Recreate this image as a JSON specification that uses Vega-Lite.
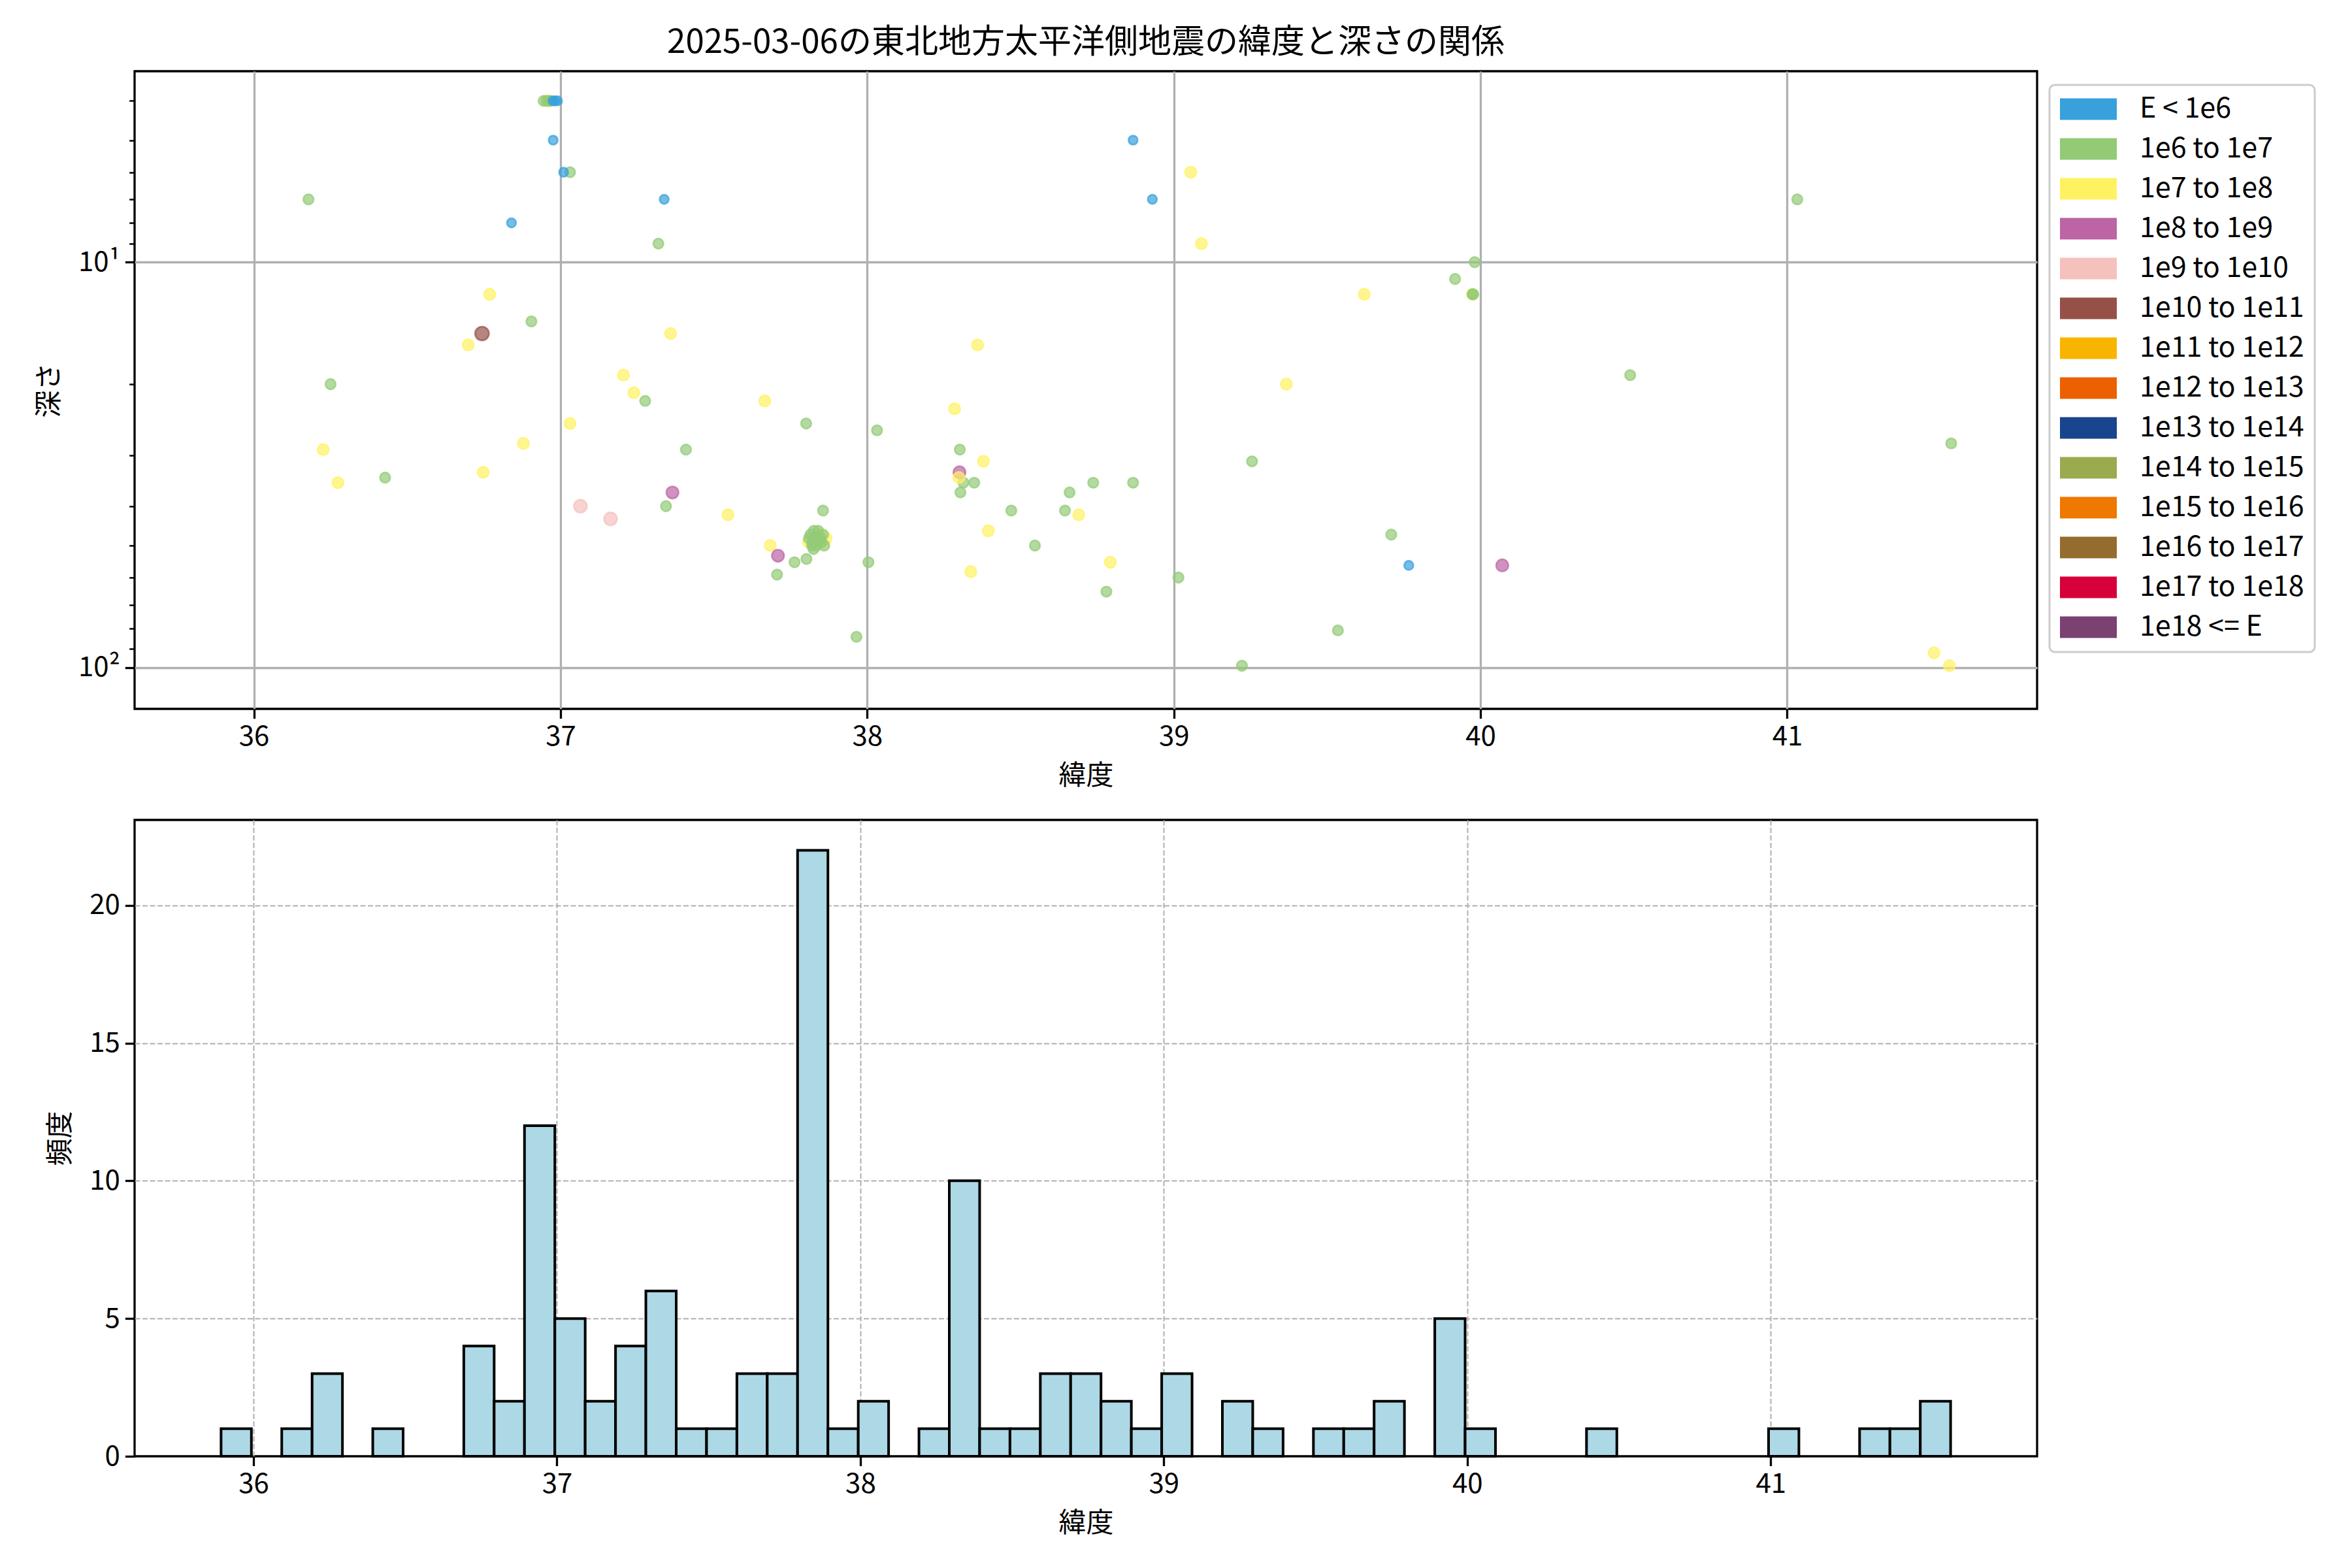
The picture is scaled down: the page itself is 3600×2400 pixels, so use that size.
{
  "$schema": "https://vega.github.io/schema/vega-lite/v6.json",
  "background": "white",
  "padding": {"left": 52, "top": 38, "right": 10, "bottom": 10},
  "spacing": 42,
  "config": {
    "font": "Noto Sans CJK JP",
    "view": {"stroke": "black", "strokeWidth": 3.3},
    "axis": {
      "domain": false,
      "labelFontSize": 42,
      "titleFontSize": 42,
      "titleFontWeight": "normal",
      "labelColor": "black",
      "titleColor": "black",
      "tickColor": "black",
      "tickSize": 14.6,
      "tickWidth": 3.3,
      "labelPadding": 8,
      "titlePadding": 19,
      "zindex": 1
    }
  },
  "datasets": {
    "quakes": [
      {"lat": 36.960, "depth": 4.0, "cls": "1e7 to 1e8"},
      {"lat": 36.769, "depth": 12, "cls": "1e7 to 1e8"},
      {"lat": 36.699, "depth": 16, "cls": "1e7 to 1e8"},
      {"lat": 37.031, "depth": 25, "cls": "1e7 to 1e8"},
      {"lat": 36.226, "depth": 29, "cls": "1e7 to 1e8"},
      {"lat": 36.879, "depth": 28, "cls": "1e7 to 1e8"},
      {"lat": 36.748, "depth": 33, "cls": "1e7 to 1e8"},
      {"lat": 36.274, "depth": 35, "cls": "1e7 to 1e8"},
      {"lat": 37.359, "depth": 15, "cls": "1e7 to 1e8"},
      {"lat": 37.205, "depth": 19, "cls": "1e7 to 1e8"},
      {"lat": 37.239, "depth": 21, "cls": "1e7 to 1e8"},
      {"lat": 37.666, "depth": 22, "cls": "1e7 to 1e8"},
      {"lat": 37.546, "depth": 42, "cls": "1e7 to 1e8"},
      {"lat": 37.840, "depth": 48, "cls": "1e7 to 1e8"},
      {"lat": 37.866, "depth": 48, "cls": "1e7 to 1e8"},
      {"lat": 37.808, "depth": 49, "cls": "1e7 to 1e8"},
      {"lat": 37.845, "depth": 47, "cls": "1e7 to 1e8"},
      {"lat": 37.855, "depth": 49, "cls": "1e7 to 1e8"},
      {"lat": 37.830, "depth": 49, "cls": "1e7 to 1e8"},
      {"lat": 37.684, "depth": 50, "cls": "1e7 to 1e8"},
      {"lat": 38.360, "depth": 16, "cls": "1e7 to 1e8"},
      {"lat": 38.285, "depth": 23, "cls": "1e7 to 1e8"},
      {"lat": 38.379, "depth": 31, "cls": "1e7 to 1e8"},
      {"lat": 38.690, "depth": 42, "cls": "1e7 to 1e8"},
      {"lat": 38.395, "depth": 46, "cls": "1e7 to 1e8"},
      {"lat": 38.338, "depth": 58, "cls": "1e7 to 1e8"},
      {"lat": 38.793, "depth": 55, "cls": "1e7 to 1e8"},
      {"lat": 39.055, "depth": 6, "cls": "1e7 to 1e8"},
      {"lat": 39.090, "depth": 9, "cls": "1e7 to 1e8"},
      {"lat": 39.621, "depth": 12, "cls": "1e7 to 1e8"},
      {"lat": 39.367, "depth": 20, "cls": "1e7 to 1e8"},
      {"lat": 39.974, "depth": 12, "cls": "1e7 to 1e8"},
      {"lat": 41.479, "depth": 92, "cls": "1e7 to 1e8"},
      {"lat": 41.529, "depth": 99, "cls": "1e7 to 1e8"},
      {"lat": 36.178, "depth": 7, "cls": "1e6 to 1e7"},
      {"lat": 36.945, "depth": 4.0, "cls": "1e6 to 1e7"},
      {"lat": 36.955, "depth": 4.0, "cls": "1e6 to 1e7"},
      {"lat": 36.965, "depth": 4.0, "cls": "1e6 to 1e7"},
      {"lat": 37.031, "depth": 6, "cls": "1e6 to 1e7"},
      {"lat": 36.905, "depth": 14, "cls": "1e6 to 1e7"},
      {"lat": 36.250, "depth": 20, "cls": "1e6 to 1e7"},
      {"lat": 36.428, "depth": 34, "cls": "1e6 to 1e7"},
      {"lat": 37.319, "depth": 9, "cls": "1e6 to 1e7"},
      {"lat": 37.276, "depth": 22, "cls": "1e6 to 1e7"},
      {"lat": 37.801, "depth": 25, "cls": "1e6 to 1e7"},
      {"lat": 38.032, "depth": 26, "cls": "1e6 to 1e7"},
      {"lat": 37.409, "depth": 29, "cls": "1e6 to 1e7"},
      {"lat": 37.344, "depth": 40, "cls": "1e6 to 1e7"},
      {"lat": 37.856, "depth": 41, "cls": "1e6 to 1e7"},
      {"lat": 37.826, "depth": 46, "cls": "1e6 to 1e7"},
      {"lat": 37.810, "depth": 48, "cls": "1e6 to 1e7"},
      {"lat": 37.856, "depth": 47, "cls": "1e6 to 1e7"},
      {"lat": 37.825, "depth": 51, "cls": "1e6 to 1e7"},
      {"lat": 37.850, "depth": 49, "cls": "1e6 to 1e7"},
      {"lat": 37.820, "depth": 50, "cls": "1e6 to 1e7"},
      {"lat": 37.830, "depth": 48, "cls": "1e6 to 1e7"},
      {"lat": 37.835, "depth": 50, "cls": "1e6 to 1e7"},
      {"lat": 37.815, "depth": 47, "cls": "1e6 to 1e7"},
      {"lat": 37.840, "depth": 46, "cls": "1e6 to 1e7"},
      {"lat": 37.860, "depth": 50, "cls": "1e6 to 1e7"},
      {"lat": 37.822, "depth": 49, "cls": "1e6 to 1e7"},
      {"lat": 37.848, "depth": 48, "cls": "1e6 to 1e7"},
      {"lat": 37.763, "depth": 55, "cls": "1e6 to 1e7"},
      {"lat": 37.802, "depth": 54, "cls": "1e6 to 1e7"},
      {"lat": 37.706, "depth": 59, "cls": "1e6 to 1e7"},
      {"lat": 38.004, "depth": 55, "cls": "1e6 to 1e7"},
      {"lat": 37.965, "depth": 84, "cls": "1e6 to 1e7"},
      {"lat": 38.302, "depth": 29, "cls": "1e6 to 1e7"},
      {"lat": 38.314, "depth": 35, "cls": "1e6 to 1e7"},
      {"lat": 38.349, "depth": 35, "cls": "1e6 to 1e7"},
      {"lat": 38.304, "depth": 37, "cls": "1e6 to 1e7"},
      {"lat": 38.470, "depth": 41, "cls": "1e6 to 1e7"},
      {"lat": 38.660, "depth": 37, "cls": "1e6 to 1e7"},
      {"lat": 38.737, "depth": 35, "cls": "1e6 to 1e7"},
      {"lat": 38.645, "depth": 41, "cls": "1e6 to 1e7"},
      {"lat": 38.547, "depth": 50, "cls": "1e6 to 1e7"},
      {"lat": 39.981, "depth": 10, "cls": "1e6 to 1e7"},
      {"lat": 39.917, "depth": 11, "cls": "1e6 to 1e7"},
      {"lat": 39.974, "depth": 12, "cls": "1e6 to 1e7"},
      {"lat": 39.976, "depth": 12, "cls": "1e6 to 1e7"},
      {"lat": 39.255, "depth": 31, "cls": "1e6 to 1e7"},
      {"lat": 38.867, "depth": 35, "cls": "1e6 to 1e7"},
      {"lat": 39.709, "depth": 47, "cls": "1e6 to 1e7"},
      {"lat": 39.015, "depth": 60, "cls": "1e6 to 1e7"},
      {"lat": 38.780, "depth": 65, "cls": "1e6 to 1e7"},
      {"lat": 39.535, "depth": 81, "cls": "1e6 to 1e7"},
      {"lat": 39.222, "depth": 99, "cls": "1e6 to 1e7"},
      {"lat": 41.033, "depth": 7, "cls": "1e6 to 1e7"},
      {"lat": 40.488, "depth": 19, "cls": "1e6 to 1e7"},
      {"lat": 41.535, "depth": 28, "cls": "1e6 to 1e7"},
      {"lat": 36.975, "depth": 4.0, "cls": "E < 1e6"},
      {"lat": 36.982, "depth": 4.0, "cls": "E < 1e6"},
      {"lat": 36.990, "depth": 4.0, "cls": "E < 1e6"},
      {"lat": 36.976, "depth": 5, "cls": "E < 1e6"},
      {"lat": 37.010, "depth": 6, "cls": "E < 1e6"},
      {"lat": 36.840, "depth": 8, "cls": "E < 1e6"},
      {"lat": 37.338, "depth": 7, "cls": "E < 1e6"},
      {"lat": 38.867, "depth": 5, "cls": "E < 1e6"},
      {"lat": 38.930, "depth": 7, "cls": "E < 1e6"},
      {"lat": 39.766, "depth": 56, "cls": "E < 1e6"},
      {"lat": 37.365, "depth": 37, "cls": "1e8 to 1e9"},
      {"lat": 37.709, "depth": 53, "cls": "1e8 to 1e9"},
      {"lat": 38.301, "depth": 33, "cls": "1e8 to 1e9"},
      {"lat": 38.299, "depth": 34, "cls": "1e7 to 1e8"},
      {"lat": 40.071, "depth": 56, "cls": "1e8 to 1e9"},
      {"lat": 37.065, "depth": 40, "cls": "1e9 to 1e10"},
      {"lat": 37.163, "depth": 43, "cls": "1e9 to 1e10"},
      {"lat": 36.744, "depth": 15, "cls": "1e10 to 1e11"}
    ],
    "bins": [
      {"start": 35.893, "end": 35.993, "count": 1},
      {"start": 36.093, "end": 36.193, "count": 1},
      {"start": 36.193, "end": 36.293, "count": 3},
      {"start": 36.393, "end": 36.493, "count": 1},
      {"start": 36.693, "end": 36.793, "count": 4},
      {"start": 36.793, "end": 36.893, "count": 2},
      {"start": 36.893, "end": 36.993, "count": 12},
      {"start": 36.993, "end": 37.093, "count": 5},
      {"start": 37.093, "end": 37.193, "count": 2},
      {"start": 37.193, "end": 37.293, "count": 4},
      {"start": 37.293, "end": 37.393, "count": 6},
      {"start": 37.393, "end": 37.493, "count": 1},
      {"start": 37.493, "end": 37.593, "count": 1},
      {"start": 37.593, "end": 37.693, "count": 3},
      {"start": 37.693, "end": 37.793, "count": 3},
      {"start": 37.793, "end": 37.893, "count": 22},
      {"start": 37.893, "end": 37.993, "count": 1},
      {"start": 37.993, "end": 38.093, "count": 2},
      {"start": 38.193, "end": 38.293, "count": 1},
      {"start": 38.293, "end": 38.393, "count": 10},
      {"start": 38.393, "end": 38.493, "count": 1},
      {"start": 38.493, "end": 38.593, "count": 1},
      {"start": 38.593, "end": 38.693, "count": 3},
      {"start": 38.693, "end": 38.793, "count": 3},
      {"start": 38.793, "end": 38.893, "count": 2},
      {"start": 38.893, "end": 38.993, "count": 1},
      {"start": 38.993, "end": 39.093, "count": 3},
      {"start": 39.193, "end": 39.293, "count": 2},
      {"start": 39.293, "end": 39.393, "count": 1},
      {"start": 39.493, "end": 39.593, "count": 1},
      {"start": 39.593, "end": 39.693, "count": 1},
      {"start": 39.693, "end": 39.793, "count": 2},
      {"start": 39.893, "end": 39.993, "count": 5},
      {"start": 39.993, "end": 40.093, "count": 1},
      {"start": 40.393, "end": 40.493, "count": 1},
      {"start": 40.993, "end": 41.093, "count": 1},
      {"start": 41.293, "end": 41.393, "count": 1},
      {"start": 41.393, "end": 41.493, "count": 1},
      {"start": 41.493, "end": 41.593, "count": 2}
    ]
  },
  "vconcat": [
    {
      "width": 2912,
      "height": 976,
      "title": {"text": "2025-03-06の東北地方太平洋側地震の緯度と深さの関係", "fontSize": 51, "fontWeight": "normal", "color": "black", "offset": 17, "anchor": "middle"},
      "data": {"name": "quakes"},
      "mark": {"type": "point", "filled": true, "fillOpacity": 0.7, "strokeOpacity": 0.7, "strokeWidth": 2.5},
      "encoding": {
        "x": {
          "field": "lat", "type": "quantitative",
          "scale": {"domain": [35.611, 41.815], "nice": false, "zero": false},
          "axis": {"title": "緯度", "values": [36, 37, 38, 39, 40, 41], "format": "d", "grid": true, "gridColor": "#b0b0b0", "gridWidth": 3.3}
        },
        "y": {
          "field": "depth", "type": "quantitative",
          "scale": {"type": "log", "domain": [3.38, 126.5], "reverse": true, "nice": false},
          "axis": {
            "title": "深さ",
            "values": [4, 5, 6, 7, 8, 9, 10, 20, 30, 40, 50, 60, 70, 80, 90, 100],
            "labelExpr": "datum.value == 10 ? '10¹' : datum.value == 100 ? '10²' : ''",
            "grid": true, "gridColor": "#b0b0b0", "gridWidth": 3.3,
            "gridOpacity": {"condition": {"test": "datum.value == 10 || datum.value == 100", "value": 1}, "value": 0},
            "tickSize": {"condition": {"test": "datum.value == 10 || datum.value == 100", "value": 14.6}, "value": 8.3},
            "tickWidth": {"condition": {"test": "datum.value == 10 || datum.value == 100", "value": 3.3}, "value": 2.5},
            "titlePadding": 22
          }
        },
        "color": {
          "field": "cls", "type": "nominal",
          "scale": {
            "domain": ["E < 1e6", "1e6 to 1e7", "1e7 to 1e8", "1e8 to 1e9", "1e9 to 1e10", "1e10 to 1e11", "1e11 to 1e12", "1e12 to 1e13", "1e13 to 1e14", "1e14 to 1e15", "1e15 to 1e16", "1e16 to 1e17", "1e17 to 1e18", "1e18 <= E"],
            "range": ["#38a1db", "#93ca76", "#fff262", "#bc64a4", "#f5c1bd", "#955148", "#f8b500", "#eb6101", "#19448e", "#99ab4e", "#ee7800", "#946c2d", "#d7003a", "#7a4171"]
          },
          "legend": {
            "title": null,
            "orient": "none", "legendX": 2931, "legendY": 21,
            "symbolType": "M-1,-0.38H1V0.38H-1Z", "symbolSize": 7569,
            "symbolStrokeWidth": 0, "symbolOpacity": 1,
            "clipHeight": 42, "rowPadding": 18,
            "labelFontSize": 43, "labelOffset": 35, "labelLimit": 500, "labelColor": "black",
            "padding": 16, "strokeColor": "#cccccc", "fillColor": "white", "cornerRadius": 8,
            "encode": {"legend": {"update": {"strokeWidth": {"value": 3}}}}
          }
        },
        "stroke": {
          "field": "cls", "type": "nominal",
          "scale": {
            "domain": ["E < 1e6", "1e6 to 1e7", "1e7 to 1e8", "1e8 to 1e9", "1e9 to 1e10", "1e10 to 1e11", "1e11 to 1e12", "1e12 to 1e13", "1e13 to 1e14", "1e14 to 1e15", "1e15 to 1e16", "1e16 to 1e17", "1e17 to 1e18", "1e18 <= E"],
            "range": ["#38a1db", "#93ca76", "#fff262", "#bc64a4", "#f5c1bd", "#955148", "#f8b500", "#eb6101", "#19448e", "#99ab4e", "#ee7800", "#946c2d", "#d7003a", "#7a4171"]
          },
          "legend": null
        },
        "size": {
          "field": "cls", "type": "nominal",
          "scale": {
            "domain": ["E < 1e6", "1e6 to 1e7", "1e7 to 1e8", "1e8 to 1e9", "1e9 to 1e10", "1e10 to 1e11"],
            "range": [200, 450]
          },
          "legend": null
        }
      }
    },
    {
      "width": 2912,
      "height": 974,
      "data": {"name": "bins"},
      "mark": {"type": "bar", "fill": "#add8e6", "stroke": "black", "strokeWidth": 4},
      "encoding": {
        "x": {
          "field": "start", "type": "quantitative",
          "scale": {"domain": [35.608, 41.878], "nice": false, "zero": false},
          "axis": {"title": "緯度", "values": [36, 37, 38, 39, 40, 41], "format": "d", "grid": true, "gridColor": "#b0b0b0", "gridWidth": 2, "gridDash": [8, 3.5]}
        },
        "x2": {"field": "end"},
        "y": {
          "field": "count", "type": "quantitative",
          "scale": {"domain": [0, 23.1], "nice": false},
          "axis": {
            "title": "頻度", "values": [0, 5, 10, 15, 20], "grid": true, "gridColor": "#b0b0b0", "gridWidth": 2, "gridDash": [8, 3.5],
            "gridOpacity": {"condition": {"test": "datum.value == 0", "value": 0}, "value": 1},
            "titlePadding": 22
          }
        },
        "y2": {"datum": 0}
      }
    }
  ]
}
